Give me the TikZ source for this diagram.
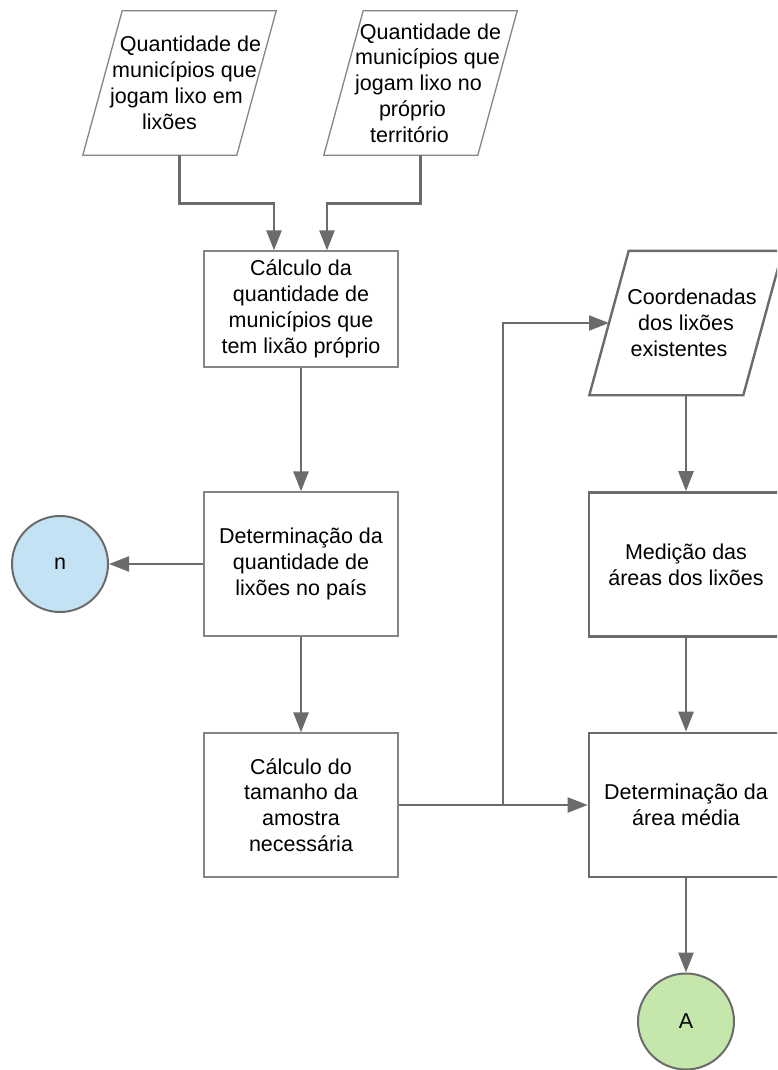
\documentclass[tikz,border=0pt]{standalone}
\usepackage{fontspec}
\setmainfont{Liberation Sans}
\usetikzlibrary{arrows.meta}
\definecolor{lnc}{HTML}{6B6B6B}
\definecolor{bdc}{HTML}{858585}
\definecolor{nfill}{HTML}{C3E3F5}
\definecolor{afill}{HTML}{C6E7AC}
\newcommand\shl[2]{\makebox[0pt]{\hspace*{#1pt}#2\hspace*{-#1pt}}}
\begin{document}
\begin{tikzpicture}[x=1pt,y=-1pt,
  txt/.style={font=\fontsize{21.5}{25.8}\selectfont, align=center, inner sep=0pt},
  box/.style={txt, rectangle, draw=bdc, line width=1.3pt, minimum width=194pt, minimum height=144pt},
  boxr/.style={box, draw=lnc, line width=2.6pt},
  io/.style={txt, rectangle, minimum width=193pt, minimum height=144pt},
  iothin/.style={draw=bdc, line width=1.3pt},
  iothick/.style={draw=lnc, line width=2.4pt},
  conn/.style={txt, circle, draw=lnc, line width=2pt, minimum size=96pt},
  arr/.style={draw=lnc, line width=2.6pt, -{Triangle[length=20pt,width=15pt]}},
  arrthin/.style={draw=lnc, line width=2pt, -{Triangle[length=20pt,width=15pt]}},
]
\useasboundingbox (0,0) rectangle (777,1070);
\clip (0,0) rectangle (777,1070);

% input parallelograms
\node[io] (p1) at (179.5,83) {\shl{11}{Quantidade de}\\\shl{5}{municípios que}\\\shl{-3}{jogam lixo em}\\\shl{-10}{lixões}};
\draw[iothin] (p1.south west) -- ++(154,0) -- (p1.north east) -- ++(-154,0) -- cycle;

\node[io] (p2) at (420.5,83) {\shl{10}{Quantidade de}\\\shl{7}{municípios que}\\\shl{-2}{jogam lixo no}\\\shl{-8}{próprio}\\\shl{-11}{território}};
\draw[iothin] (p2.south west) -- ++(154,0) -- (p2.north east) -- ++(-154,0) -- cycle;

\node[io] (p3) at (686,323) {\shl{6}{Coordenadas}\\\shl{0}{dos lixões}\\\shl{-7}{existentes}};
\draw[iothick] (p3.south west) -- ++(154,0) -- (p3.north east) -- ++(-154,0) -- cycle;

% left column
\node[box, minimum height=116pt] (b1) at (301,309) {Cálculo da\\quantidade de\\municípios que\\tem lixão próprio};
\node[box] (b2) at (301,564) {Determinação da\\quantidade de\\lixões no país};
\node[box] (b3) at (301,805) {Cálculo do\\tamanho da\\amostra\\necessária};
\node[conn, fill=nfill] (n) at (60,564) {n};

% right column
\node[boxr] (m) at (686,564.5) {Medição das\\áreas dos lixões};
\node[boxr] (d) at (686,805) {Determinação da\\área média};
\node[conn, fill=afill] (A) at (686,1021.5) {A};

% connectors
\draw[arr] (p1.south) -- ++(0,48) -| ([xshift=-27pt]b1.north);
\draw[arr] (p2.south) -- ++(0,48) -| ([xshift=26pt]b1.north);
\draw[arr] (b1.south) -- (b2.north);
\draw[arrthin] (b2.west) -- (n.east);
\draw[arr] (b2.south) -- (b3.north);
\draw[arrthin] (b3.east) -- (d.west);
\coordinate (br) at (502.7,805);
\draw[arrthin] (br) |- ([xshift=-77pt]p3.center);
\draw[arr] (p3.south) -- (m.north);
\draw[arr] (m.south) -- (d.north);
\draw[arr] (d.south) -- (A.north);
\end{tikzpicture}
\end{document}
